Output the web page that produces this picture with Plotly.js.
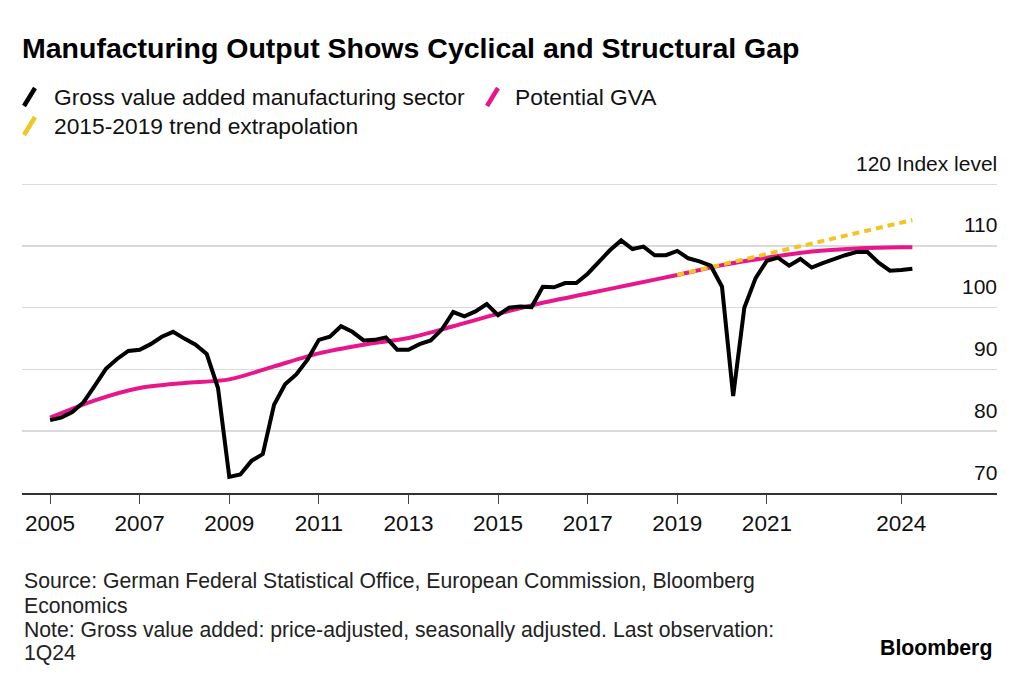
<!DOCTYPE html>
<html>
<head>
<meta charset="utf-8">
<script src="https://cdn.plot.ly/plotly-3.0.1.min.js"></script>
<style>
  html, body { margin: 0; padding: 0; background: #fff; }
  #chart { width: 1024px; height: 683px; }
</style>
</head>
<body>
<div id="chart"></div>
<script>
// ---- Data (quarterly, first observation 2005 Q1) ----
const startYear = 2005;
const gvaManufacturing = [
  81.8, 82.2, 83.1, 84.7,    // 2005
  87.4, 90.1, 91.7, 93.0,    // 2006
  93.2, 94.1, 95.3, 96.1,    // 2007
  95.0, 94.0, 92.5, 87.0,    // 2008
  72.6, 73.0, 75.2, 76.3,    // 2009
  84.3, 87.6, 89.2, 91.6,    // 2010
  94.8, 95.3, 97.0, 96.1,    // 2011
  94.7, 94.8, 95.2, 93.2,    // 2012
  93.2, 94.1, 94.7, 96.5,    // 2013
  99.3, 98.6, 99.4, 100.6,   // 2014
  98.8, 100.0, 100.2, 100.1, // 2015
  103.4, 103.3, 104.0, 104.0,// 2016
  105.5, 107.4, 109.3, 110.9,// 2017
  109.5, 109.9, 108.5, 108.5,// 2018
  109.2, 108.0, 107.5, 106.8,// 2019
  103.4, 85.7, 100.0, 104.8, // 2020
  107.6, 108.1, 106.8, 107.9,// 2021
  106.5, 107.2, 107.9, 108.5,// 2022
  109.0, 109.0, 107.3, 106.0,// 2023
  106.1, 106.3               // 2024
];

const potentialDates = ['2005-01-01','2006-01-01','2007-01-01','2008-01-01','2009-01-01','2010-01-01',
  '2011-01-01','2012-01-01','2013-01-01','2014-01-01','2015-01-01','2016-01-01','2017-01-01',
  '2018-01-01','2019-01-01','2020-01-01','2021-01-01','2022-01-01','2023-01-01','2024-01-01','2024-04-01'];
const potentialGVA = [82.2, 85.0, 87.0, 87.8, 88.4, 90.5, 92.6, 94.0, 95.1, 97.0, 99.0, 100.8, 102.3,
  103.8, 105.3, 106.9, 108.1, 109.1, 109.6, 109.8, 109.8];

const trendDates = ['2019-01-01', '2024-04-01'];
const trendValues = [105.3, 114.2];

const tickYears = ['2005','2007','2009','2011','2013','2015','2017','2019','2021','2024'];
const yTickVals = [70, 80, 90, 100, 110, 120];
const yTickText = ['70', '80', '90', '100', '110', '120 Index level'];

const seriesNames = ['Gross value added manufacturing sector', 'Potential GVA', '2015-2019 trend extrapolation'];
const titleText = 'Manufacturing Output Shows Cyclical and Structural Gap';
const footerLines = [
  'Source: German Federal Statistical Office, European Commission, Bloomberg',
  'Economics',
  'Note: Gross value added: price-adjusted, seasonally adjusted. Last observation:',
  '1Q24'
];

// ---- Build ----
const qDates = gvaManufacturing.map((_, i) => {
  const y = startYear + Math.floor(i / 4);
  const m = (i % 4) * 3 + 1;
  return y + '-' + String(m).padStart(2, '0') + '-01';
});

const BLACK = '#000000', PINK = '#e8168b', YELLOW = '#f3c523';
const FONT = 'Liberation Sans, Arial, sans-serif';
const GRID = '#dadada';

const traces = [
  { x: potentialDates, y: potentialGVA, type: 'scatter', mode: 'lines', name: seriesNames[1],
    line: { color: PINK, width: 4, shape: 'spline', smoothing: 0.8 }, showlegend: false, hoverinfo: 'skip' },
  { x: trendDates, y: trendValues, type: 'scatter', mode: 'lines', name: seriesNames[2],
    line: { color: YELLOW, width: 4, dash: '7px,5px' }, showlegend: false, hoverinfo: 'skip' },
  { x: qDates, y: gvaManufacturing, type: 'scatter', mode: 'lines', name: seriesNames[0],
    line: { color: BLACK, width: 4 }, showlegend: false, hoverinfo: 'skip' }
];

// plot area in pixels
const L = 22, R = 997, T = 184, B = 493;
const px = v => (v - L) / (R - L);
const py = v => (B - v) / (B - T);

const annotations = [];
const shapes = [];
// top gridline (at the range edge)
shapes.push({ type: 'line', xref: 'paper', yref: 'y', x0: 0, x1: 1, y0: yTickVals[yTickVals.length - 1],
  y1: yTickVals[yTickVals.length - 1], line: { color: GRID, width: 1.5 }, layer: 'below' });
// y tick labels (placed above their gridlines, inside the plot on the right)
yTickVals.forEach((v, i) => {
  annotations.push({ xref: 'paper', yref: 'y', x: 1, y: v, xanchor: 'right', yanchor: 'middle',
    yshift: 21, xshift: 2, showarrow: false, text: yTickText[i],
    font: { family: FONT, size: 21, color: '#111' } });
});
// legend
const legendItems = [
  { color: BLACK, sx: 24, sy: 97, tx: 52, text: seriesNames[0] },
  { color: PINK, sx: 487, sy: 97, tx: 513, text: seriesNames[1] },
  { color: YELLOW, sx: 24, sy: 126, tx: 52, text: seriesNames[2] }
];
legendItems.forEach(it => {
  shapes.push({ type: 'line', xref: 'paper', yref: 'paper',
    x0: px(it.sx), y0: py(it.sy + 9), x1: px(it.sx + 11), y1: py(it.sy - 9),
    line: { color: it.color, width: 4.5 } });
  annotations.push({ xref: 'paper', yref: 'paper', x: px(it.tx), y: py(it.sy),
    xanchor: 'left', yanchor: 'middle', showarrow: false, text: it.text,
    font: { family: FONT, size: 22.8, color: '#111' } });
});
// footer
const footerY = [581, 605, 630, 653];
footerLines.forEach((t, i) => {
  annotations.push({ xref: 'paper', yref: 'paper', x: px(22), y: py(footerY[i]),
    xanchor: 'left', yanchor: 'middle', showarrow: false, text: t,
    font: { family: FONT, size: 21.2, color: '#222' } });
});
annotations.push({ xref: 'paper', yref: 'paper', x: px(994), y: py(648),
  xanchor: 'right', yanchor: 'middle', showarrow: false, text: '<b>Bloomberg</b>',
  font: { family: FONT, size: 21.3, color: '#000' } });

const layout = {
  width: 1024, height: 683,
  margin: { l: L, r: 1024 - R, t: T, b: 683 - B, pad: 0 },
  paper_bgcolor: '#ffffff', plot_bgcolor: '#ffffff',
  font: { family: FONT, color: '#111' },
  title: { text: '<b>' + titleText + '</b>', x: 22 / 1024, xanchor: 'left', xref: 'container',
    y: 1 - 48 / 683, yanchor: 'middle', yref: 'container',
    font: { family: FONT, size: 28.5, color: '#000' } },
  xaxis: {
    type: 'date', range: ['2004-05-17', '2026-02-20'],
    tickvals: tickYears.map(y => y + '-01-01'), ticktext: tickYears,
    showgrid: false, zeroline: false,
    showline: true, linecolor: '#333', linewidth: 2,
    ticks: 'outside', ticklen: 9, tickwidth: 1, tickcolor: '#444',
    tickfont: { family: FONT, size: 22.5, color: '#111' }
  },
  yaxis: {
    range: [70, 120.03], tickvals: yTickVals,
    side: 'right', showticklabels: false,
    showgrid: true, gridcolor: GRID, gridwidth: 1.5,
    zeroline: false, showline: false, ticks: ''
  },
  shapes: shapes,
  annotations: annotations,
  showlegend: false
};

Plotly.newPlot('chart', traces, layout, { staticPlot: true, displayModeBar: false });
</script>
</body>
</html>
